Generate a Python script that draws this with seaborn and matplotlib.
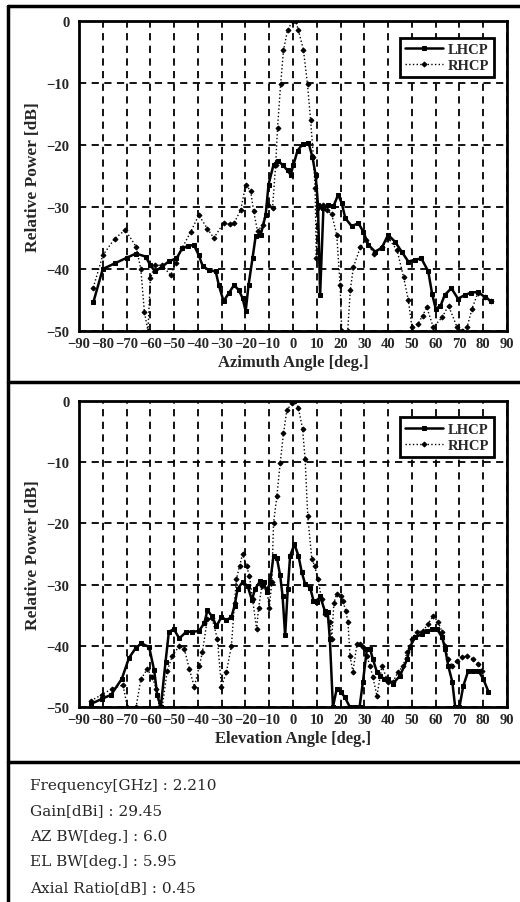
import numpy as np
import matplotlib
matplotlib.use('Agg')
import matplotlib.pyplot as plt
import seaborn as sns
from matplotlib.lines import Line2D
from matplotlib.ticker import MultipleLocator

sns.set_style('white')
plt.rcParams['font.family'] = ['Liberation Serif', 'DejaVu Serif']

# ---- data ----
# azimuth cut
az_lhcp_deg = [-84, -80, -75, -70, -66, -62, -60, -58, -55, -52, -49, -46.5, -44, -41.7, -39.6, -38, -35.4,
               -32.5, -31.2, -29.2, -27, -24.8, -22.8, -21.2, -19.9, -18.7, -17, -15.7, -13.6, -11.5, -10.3,
               -8.2, -6.5, -4.4, -2.3, -1, 0.2, 1.9, 4, 6.5, 8.2, 9.5, 10.5, 11.4, 12.8, 14.9, 17, 19, 20.5,
               22, 24.7, 27.5, 29.6, 31.7, 34.5, 37.3, 40, 42.9, 45.7, 48.5, 51.3, 54, 56.9, 58.5, 60, 62,
               63.8, 66.6, 69.4, 72.2, 75, 77.8, 80.6, 83.4]
az_lhcp = [-45.4, -40, -39.1, -38.2, -37.5, -38, -39.4, -40.4, -39.6, -38.7, -38.3, -36.6, -36.3, -36.1, -37.8,
           -39.5, -40.2, -40.4, -42.6, -45.2, -43.9, -42.6, -43.4, -44.7, -46.8, -42.6, -38.2, -34.7, -34.5,
           -31.3, -26.4, -23.2, -22.5, -23.2, -24.1, -24.8, -23.2, -20.9, -19.9, -19.6, -22, -24.8, -29.6,
           -44.2, -30.1, -29.7, -29.9, -28, -29.4, -31.8, -33.1, -32.6, -34, -36.1, -37.2, -36.6, -34.5,
           -35.6, -37.2, -38.8, -38.5, -38.3, -40.4, -44, -46.4, -46, -44.2, -43.1, -44.8, -44.2, -43.8,
           -43.7, -44.5, -45.2]
az_rhcp_deg = [-84, -80, -75, -70.5, -66, -64, -62.5, -61, -60, -58, -55, -51.5, -49.4, -46.6, -43, -39.6,
               -36, -33.3, -29.2, -26.5, -24.8, -22, -19.9, -17.8, -16.6, -14.9, -12.8, -10.7, -8.6, -7.3,
               -6.5, -5.2, -4, -2.3, -0.2, 1.1, 2.3, 4.4, 6.1, 7.4, 8.6, 9.3, 9.8, 10.7, 12.5, 14.5, 16.3,
               18.4, 19.8, 20.5, 23, 24.1, 25.4, 28.3, 30.5, 33.9, 37.5, 40.1, 43.8, 46.5, 48.5, 50, 52.7,
               54.5, 56.3, 59, 62.7, 65.4, 69, 71, 73.2, 75.3, 77.8, 80.6, 83.4]
az_rhcp = [-43, -37.8, -35.1, -33.7, -36.4, -40, -46.9, -50, -41.5, -39.4, -39.4, -41, -39.1, -36.6, -34,
           -31.3, -33.5, -35, -32.6, -32.8, -32.6, -30.5, -26.4, -27.4, -30.6, -33.9, -32.9, -29.7, -30.1,
           -23.2, -17.2, -10.2, -4.7, -1.5, 0, 0, -1.5, -4.7, -10.2, -16, -22, -27, -38.2, -30.1,
           -29.6, -30.5, -31.2, -34.5, -42.6, -50, -50, -43.4, -39.7, -36.5, -35.3, -37.5, -36.5, -35, -37,
           -41.3, -45, -49.4, -48.8, -47.5, -46.2, -49.4, -47.8, -45.9, -49.4, -50, -49.4, -46.4, -43.8,
           -44.5, -45.2]

# elevation cut
el_lhcp_deg = [-85, -80.5, -76.5, -72, -69, -66.2, -63.8, -60.5, -58.4, -57.1, -55.6, -53.6, -52.2, -50.1,
               -47.8, -44.9, -42.3, -39.6, -37.3, -36, -34, -32.2, -30.1, -28, -25.9, -24.6, -23.3, -21.2,
               -19.1, -17.3, -15.9, -13.8, -12.4, -11, -9.6, -8.2, -6.8, -5.4, -4.4, -3.3, -2.2, -1.2, 0.6,
               2.3, 3.7, 5.1, 7.2, 8.6, 10, 11.4, 13.4, 14.6, 15.5, 16.8, 18.4, 20, 21.8, 23.9, 26, 28, 29.4,
               31.1, 32.4, 33.6, 35.3, 36.6, 38.3, 40, 42, 45, 48, 49.2, 51.3, 54.3, 56.4, 58.5, 60.6, 62.7,
               64, 65.3, 67, 68.2, 70, 71.6, 73.7, 75.8, 78, 80, 82.2]
el_lhcp = [-49.5, -48.7, -48, -45.4, -42, -40.4, -39.6, -40.2, -44, -48, -50, -42.6, -37.7, -37.3, -38.8,
           -37.7, -37.7, -37.6, -36.3, -34.2, -35.2, -36.8, -35.3, -35.8, -35.3, -33.5, -30.7, -29.6, -30.2,
           -32.5, -30.7, -29.4, -29.6, -31.2, -29.6, -25.3, -25.6, -28.5, -31.8, -38.3, -30.7, -25.3, -23.4,
           -25.3, -28, -29.9, -30.5, -32.6, -32.8, -31.9, -34.3, -34.5, -38.9, -50, -47, -47.5, -48.4, -50,
           -50, -50, -45.9, -40.5, -40.5, -42.2, -44.3, -44.9, -45.4, -45.4, -46.2, -44.9, -42.2, -40.2,
           -38.6, -38.1, -37.6, -37.3, -37.3, -38.6, -40.5, -43.3, -45.9, -50, -50, -46.6, -44.1, -44.1,
           -44.1, -45.4, -47.5]
el_rhcp_deg = [-85, -80.5, -76, -71.5, -69.7, -66, -64, -61.3, -59.2, -57.5, -56.2, -55, -52.9, -50.8, -47.8,
               -45.7, -43.6, -41.5, -39.4, -38.1, -36, -34, -31.8, -30.1, -28, -25.9, -24.6, -23.8, -22.5,
               -21.2, -19.5, -18.3, -17, -15.3, -14.5, -13.1, -11, -10, -8.9, -8.2, -6.8, -5.4, -4, -2.6,
               -0.5, 0.9, 2.3, 4, 5.1, 6.2, 7.9, 9.2, 10.4, 12.1, 13.4, 15.5, 16.3, 17.2, 18.4, 20, 21, 22.2,
               23.1, 24, 25.2, 26.9, 28.1, 29.4, 31.1, 32.4, 33.6, 35.3, 37.4, 40, 42, 44.2, 46.3, 48, 50.1,
               52.2, 54.7, 56.8, 59, 61, 62.7, 64, 65.3, 67, 69, 71.2, 73.3, 75.8, 78, 79.6]
el_rhcp = [-49, -48, -47, -46.4, -50, -50, -45.5, -43.8, -45.1, -47, -50, -50, -44.1, -41.7, -40, -40.5,
           -43.8, -46.7, -43.3, -41, -35.6, -35.5, -38.9, -46.7, -44.3, -40, -33, -29.1, -27, -25, -27,
           -28.6, -32.4, -37.3, -33.9, -30.2, -30.7, -33.9, -29.6, -20, -15.6, -10.2, -5.3, -1.5, -0.4, 0,
           -1.2, -4.5, -9.5, -18.8, -25.8, -27, -29.1, -32.4, -34.8, -36.1, -38.9, -33, -31.5, -31.8, -32.7,
           -34.3, -36.1, -41.7, -44.3, -39.7, -39.7, -40.2, -41.7, -43.3, -45.1, -48.2, -43.3, -45.9, -45.9,
           -44.3, -43.3, -41, -38.9, -37.7, -37.6, -36.4, -35.1, -36.1, -37.7, -40, -42.2, -43.3, -42.5,
           -41.8, -41.7, -42.2, -43, -44.1]

x_ticks = list(range(-90, 91, 10))
y_ticks = [0, -10, -20, -30, -40, -50]
info_lines = ['Frequency[GHz] : 2.210', 'Gain[dBi] : 29.45', 'AZ BW[deg.] : 6.0',
              'EL BW[deg.] : 5.95', 'Axial Ratio[dB] : 0.45']

W, H = 520, 903
fig = plt.figure(figsize=(W / 100, H / 100), dpi=100)
ax1 = fig.add_axes([79 / W, 1 - 332 / H, 428 / W, 310 / H])
ax2 = fig.add_axes([79 / W, 1 - 708 / H, 428 / W, 306 / H])

bold = dict(family='Liberation Serif', weight='bold')


def draw_panel(ax, lx, ly, rx, ry, xlabel):
    sns.lineplot(x=lx, y=ly, ax=ax, color='black', lw=1.8, marker='s', markersize=3,
                 markeredgecolor='black', label='LHCP', sort=False, estimator=None)
    sns.lineplot(x=rx, y=ry, ax=ax, color='black', lw=1.0, linestyle=':', marker='D', markersize=2.5,
                 markeredgecolor='black', label='RHCP', sort=False, estimator=None)
    ax.set_xlim(-90, 90)
    ax.set_ylim(-50, 0)
    ax.set_xticks(x_ticks)
    ax.set_yticks(y_ticks)
    ax.xaxis.set_minor_locator(MultipleLocator(2))
    ax.yaxis.set_minor_locator(MultipleLocator(2))
    ax.tick_params(which='both', direction='in', color='black')
    ax.tick_params(which='major', length=5, width=1.2)
    ax.tick_params(which='minor', length=3, width=1)
    ax.tick_params(axis='x', pad=4)
    ax.tick_params(axis='y', pad=7)
    for lab in ax.get_xticklabels() + ax.get_yticklabels():
        lab.set_fontfamily('Liberation Serif')
        lab.set_fontweight('bold')
        lab.set_fontsize(10.5)
    ax.grid(True, which='major', color='black', linestyle=(0, (4, 3)), lw=1.3)
    for sp in ax.spines.values():
        sp.set_color('black')
        sp.set_linewidth(2)
    ax.set_xlabel(xlabel, fontsize=12, **bold)
    ax.set_ylabel('Relative Power [dB]', fontsize=12.5, va='center', **bold)
    ax.xaxis.set_label_coords(0.5, -0.075)
    ax.yaxis.set_label_coords(-(79 - 33) / 428, 0.5)
    leg = ax.legend(loc='upper right', bbox_to_anchor=(0.986, 0.97), frameon=True, fancybox=False,
                    edgecolor='black', framealpha=1, handlelength=2.6, borderpad=0.35, labelspacing=0.2,
                    handletextpad=0.3, prop=dict(family='Liberation Serif', weight='bold', size=10.5))
    leg.get_frame().set_linewidth(2)


draw_panel(ax1, az_lhcp_deg, az_lhcp, az_rhcp_deg, az_rhcp, 'Azimuth Angle [deg.]')
draw_panel(ax2, el_lhcp_deg, el_lhcp, el_rhcp_deg, el_rhcp, 'Elevation Angle [deg.]')


# outer frame and separators
def fy(py):
    return 1 - py / H


frame_kw = dict(color='black', lw=2.5, transform=fig.transFigure)
fig.add_artist(Line2D([8 / W, 8 / W], [fy(7), fy(903)], **frame_kw))
for py in (7, 383, 763):
    fig.add_artist(Line2D([8 / W, 1], [fy(py), fy(py)], **frame_kw))

for i, line in enumerate(info_lines):
    fig.text(30 / W, fy(786 + i * 25.5), line, fontsize=11, family='DejaVu Serif', va='center', ha='left')

fig.savefig('out.png', dpi=100)
